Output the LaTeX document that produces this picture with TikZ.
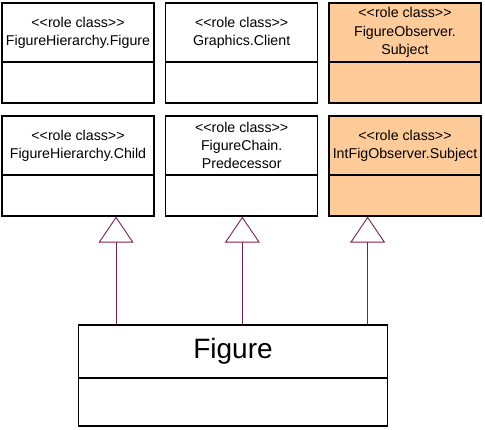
\documentclass[tikz,border=0pt]{standalone}
\usepackage{fontspec}
\setmainfont{Liberation Sans}
\usetikzlibrary{arrows.meta}
\definecolor{rolefill}{HTML}{FFCC99}
\definecolor{realizeline}{HTML}{801E50}
\newcommand\stereo[1]{<\kern0pt<#1>\kern0pt>}
\tikzset{
  rolename/.style = {draw, line width = 1.3pt, minimum width = 152pt, minimum height = 59pt, inner sep = 0pt, align = center, font = \fontsize{14.2}{18.3}\selectfont},
  rolebody/.style = {draw, line width = 1.3pt, minimum width = 152pt, minimum height = 41pt, inner sep = 0pt},
  realize/.style = {draw = realizeline, line width = 0.9pt, -{Triangle[open, width = 35pt, length = 26pt]}}
}
\begin{document}
\begin{tikzpicture}[x = 1pt, y = -1pt]
\useasboundingbox (0, 0) rectangle (485, 430);
\node[rolename] (hierfig) at (78.0, 32.5) {\stereo{role class}\\FigureHierarchy.Figure};
\node[rolebody] (hierfigb) at (78.0, 82.5) {};
\node[rolename] (client) at (241.7, 32.5) {\stereo{role class}\\Graphics.Client};
\node[rolebody] (clientb) at (241.7, 82.5) {};
\node[rolename, fill = rolefill] (obssubj) at (405.0, 32.5) {\stereo{role class}\\FigureObserver.\\Subject};
\node[rolebody, fill = rolefill] (obssubjb) at (405.0, 82.5) {};
\node[rolename] (hierchild) at (78.0, 145.5) {\stereo{role class}\\FigureHierarchy.Child};
\node[rolebody] (hierchildb) at (78.0, 195.5) {};
\node[rolename] (chainpred) at (241.7, 145.5) {\stereo{role class}\\FigureChain.\\Predecessor};
\node[rolebody] (chainpredb) at (241.7, 195.5) {};
\node[rolename, fill = rolefill] (intsubj) at (405.0, 145.5) {\stereo{role class}\\IntFigObserver.Subject};
\node[rolebody, fill = rolefill] (intsubjb) at (405.0, 195.5) {};
\node[rolename, minimum width = 309.4pt, minimum height = 53pt, font = \fontsize{28}{32}\selectfont] (figure) at (233.0, 351.5) {Figure};
\node[rolebody, minimum width = 309.4pt, minimum height = 48pt] (figureb) at (233.0, 402.0) {};
\draw[realize] ([xshift = 38.4pt]figure.north west) coordinate (r1) -- (r1 |- hierchildb.south);
\draw[realize] ([xshift = 164.7pt]figure.north west) coordinate (r2) -- (r2 |- chainpredb.south);
\draw[realize] ([xshift = 290.0pt]figure.north west) coordinate (r3) -- (r3 |- intsubjb.south);
\end{tikzpicture}
\end{document}
